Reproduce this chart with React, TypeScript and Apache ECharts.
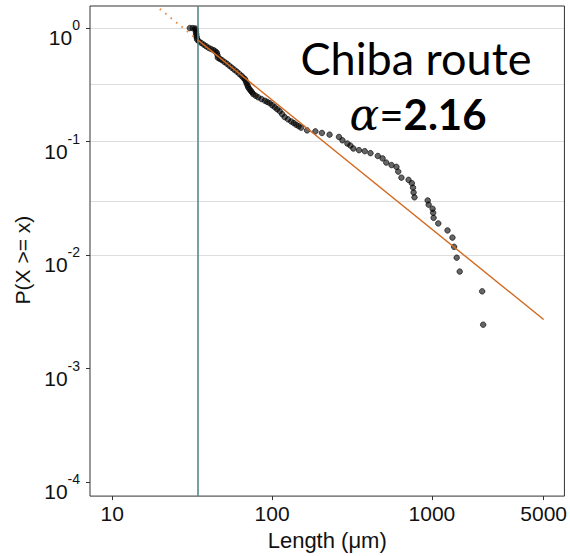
import React, { useEffect, useRef } from "react";
import * as echarts from "echarts";

const lengths = [
  30.6, 31.9, 33.1, 33.3, 33.4, 33.5, 33.6, 33.8, 34.0,
  34.8, 36.05, 37.35, 38.7, 40.1, 41.6, 43.1, 44.3, 45.2, 45.6, 45.8,
  47.1, 48.5, 50.3, 52.1, 54.0, 55.9, 58.0, 60.1, 62.3, 64.5, 66.1, 67.7,
  68.5, 69.3, 70.2, 71.0, 72.2, 73.6, 74.9, 76.3, 79.0, 81.9, 85.9, 90.1,
  93.4, 96.8, 100.3, 104.0, 107.7, 111.6, 115.7, 119.9, 125.7, 131.8,
  136.6, 141.5, 146.7, 152.0,
  165.6, 186.6, 205.1, 228.9, 262.1, 275.6, 296.0, 309.0, 322.5, 349.9,
  380.0, 412.8, 458.7, 491.4, 518.1, 558.7, 600.0, 615.6, 644.5, 714.2,
  748.7, 761.6, 768.1, 778.0, 940.8, 954.3, 1010, 1018, 1025, 1096, 1252,
  1344, 1377, 1429, 1492, 2063, 2093,
];
const ccdf = [
  1.0, 0.998, 0.992, 0.9665, 0.9284, 0.8919, 0.8567, 0.823, 0.7907,
  0.764, 0.74, 0.715, 0.691, 0.669, 0.653, 0.638, 0.621, 0.605, 0.576, 0.548,
  0.535, 0.522, 0.503, 0.486, 0.466, 0.448, 0.43, 0.4135, 0.3956, 0.3785, 0.365, 0.354,
  0.34, 0.327, 0.3128, 0.3, 0.2898, 0.28, 0.2713, 0.262, 0.2533, 0.2454, 0.237, 0.229,
  0.2233, 0.2176, 0.2089, 0.2007, 0.1928, 0.1852, 0.1744, 0.1642, 0.1571, 0.1503,
  0.1456, 0.1407, 0.1365, 0.1325,
  0.1255, 0.123, 0.1191, 0.1151, 0.1099, 0.1026, 0.0961, 0.0923, 0.0869, 0.084,
  0.0823, 0.0791, 0.0747, 0.0711, 0.0653, 0.0621, 0.0599, 0.0544, 0.0481, 0.046,
  0.043, 0.0393, 0.0356, 0.0323, 0.0303, 0.0278, 0.0256, 0.0236, 0.0213, 0.019, 0.0165,
  0.01427, 0.01184, 0.0095, 0.00717, 0.0048, 0.00244,
];

// Fitted power law (solid above xmin, dotted extrapolation below)
const xmin = 34.4;
const fitLengths = [34.4, 5000];
const fitP = [0.783, 0.00271];
const extrapLengths = [19.85, 34.4];
const extrapP = [1.473, 0.783];

// Axis ticks
const xTicks = [10, 100, 1000, 5000];
const yTicks = [1e-4, 1e-3, 1e-2, 1e-1, 1];

const titleText = "Chiba route";
const alphaText = "2.16";

export default function App() {
  const ref = useRef<HTMLDivElement>(null);

  useEffect(() => {
    const chart = echarts.init(ref.current!, null, { renderer: "svg" });
    const minorGrid = yTicks.slice(1).map((t) => t / Math.sqrt(10));
    const axisFont = "Liberation Sans";
    const gridLineStyle = { color: "#dedede", width: 1, type: "solid" as const };

    chart.setOption({
      animation: false,
      grid: {
        left: 90,
        right: 1,
        top: 6,
        bottom: 55,
        show: true,
        borderColor: "#333",
        borderWidth: 1,
        backgroundColor: "transparent",
        z: 4,
      },
      xAxis: {
        type: "log",
        logBase: 10,
        min: 7.261,
        max: 6745,
        axisLine: { show: false },
        splitLine: { show: false },
        minorSplitLine: { show: false },
        axisTick: {
          show: true,
          customValues: xTicks,
          length: 4,
          lineStyle: { color: "#333", width: 1 },
        },
        axisLabel: {
          customValues: xTicks,
          formatter: (v: number) => String(Math.round(v)),
          fontSize: 21,
          fontFamily: axisFont,
          color: "#111",
          margin: 7,
        },
        name: "Length (μm)",
        nameLocation: "middle",
        nameGap: 27,
        nameTextStyle: { fontSize: 22, fontFamily: axisFont, color: "#111" },
      },
      yAxis: {
        type: "log",
        logBase: 10,
        min: 7.55e-5,
        max: 1.563,
        axisLine: { show: false },
        splitLine: { show: false },
        minorSplitLine: { show: false },
        axisTick: {
          show: true,
          customValues: yTicks,
          length: 4,
          lineStyle: { color: "#333", width: 1 },
        },
        axisLabel: {
          customValues: yTicks,
          formatter: (v: number) => `{b|10}{s|${Math.round(Math.log10(v))}}`,
          margin: 10,
          padding: [10, 0, 0, 0],
          rich: {
            b: {
              fontSize: 21,
              fontFamily: axisFont,
              color: "#111",
              lineHeight: 30,
              verticalAlign: "bottom",
            },
            s: {
              fontSize: 14,
              fontFamily: axisFont,
              color: "#111",
              verticalAlign: "top",
            },
          },
        },
        name: "P(X >= x)",
        nameLocation: "middle",
        nameGap: 52,
        nameTextStyle: {
          fontSize: 21,
          fontFamily: axisFont,
          color: "#111",
          padding: [0, 18, 0, 0],
        },
      },
      series: [
        {
          type: "line",
          data: [],
          silent: true,
          z: 1,
          markLine: {
            silent: true,
            symbol: "none",
            z: 1,
            label: { show: false },
            emphasis: { disabled: true },
            lineStyle: gridLineStyle,
            data: [...yTicks, ...minorGrid].map((v) => ({ yAxis: v })),
          },
        },
        {
          type: "scatter",
          data: lengths.map((x, i) => [x, ccdf[i]]),
          symbol: "circle",
          symbolSize: 5.5,
          z: 3,
          itemStyle: {
            color: "rgba(0,0,0,0.6)",
            borderColor: "rgba(0,0,0,0.8)",
            borderWidth: 0.8,
            opacity: 1,
          },
        },
        {
          type: "line",
          data: extrapLengths.map((x, i) => [x, extrapP[i]]),
          showSymbol: false,
          symbol: "none",
          z: 5,
          lineStyle: { color: "#ee8433", width: 2, type: [1.5, 5.5] },
        },
        {
          type: "line",
          data: fitLengths.map((x, i) => [x, fitP[i]]),
          showSymbol: false,
          symbol: "none",
          z: 5,
          lineStyle: { color: "#d2691e", width: 1.4 },
          markLine: {
            silent: true,
            symbol: "none",
            z: 5,
            label: { show: false },
            emphasis: { disabled: true },
            lineStyle: { color: "#55888f", width: 1.6, type: "solid" },
            data: [{ xAxis: xmin }],
          },
        },
      ],
      graphic: [
        {
          type: "text",
          x: 416,
          y: 58,
          z: 10,
          style: {
            text: titleText,
            fontSize: 45,
            fontFamily: "Lato",
            fill: "#000",
            align: "center",
            verticalAlign: "middle",
          },
        },
        {
          type: "text",
          x: 418,
          y: 114,
          z: 10,
          style: {
            text: `{a|α}{e|=}{n|${alphaText}}`,
            align: "center",
            verticalAlign: "middle",
            rich: {
              a: {
                fontSize: 44,
                fontFamily: "DejaVu Serif",
                fontStyle: "italic",
                fill: "#000",
              },
              e: { fontSize: 42, fontFamily: "Lato", fill: "#000" },
              n: {
                fontSize: 42,
                fontFamily: "Lato",
                fontWeight: "bold",
                fill: "#000",
              },
            },
          },
        },
      ],
    });

    return () => chart.dispose();
  }, []);

  return (
    <div
      ref={ref}
      style={{ position: "absolute", left: 0, top: 0, width: 570, height: 556 }}
    />
  );
}
